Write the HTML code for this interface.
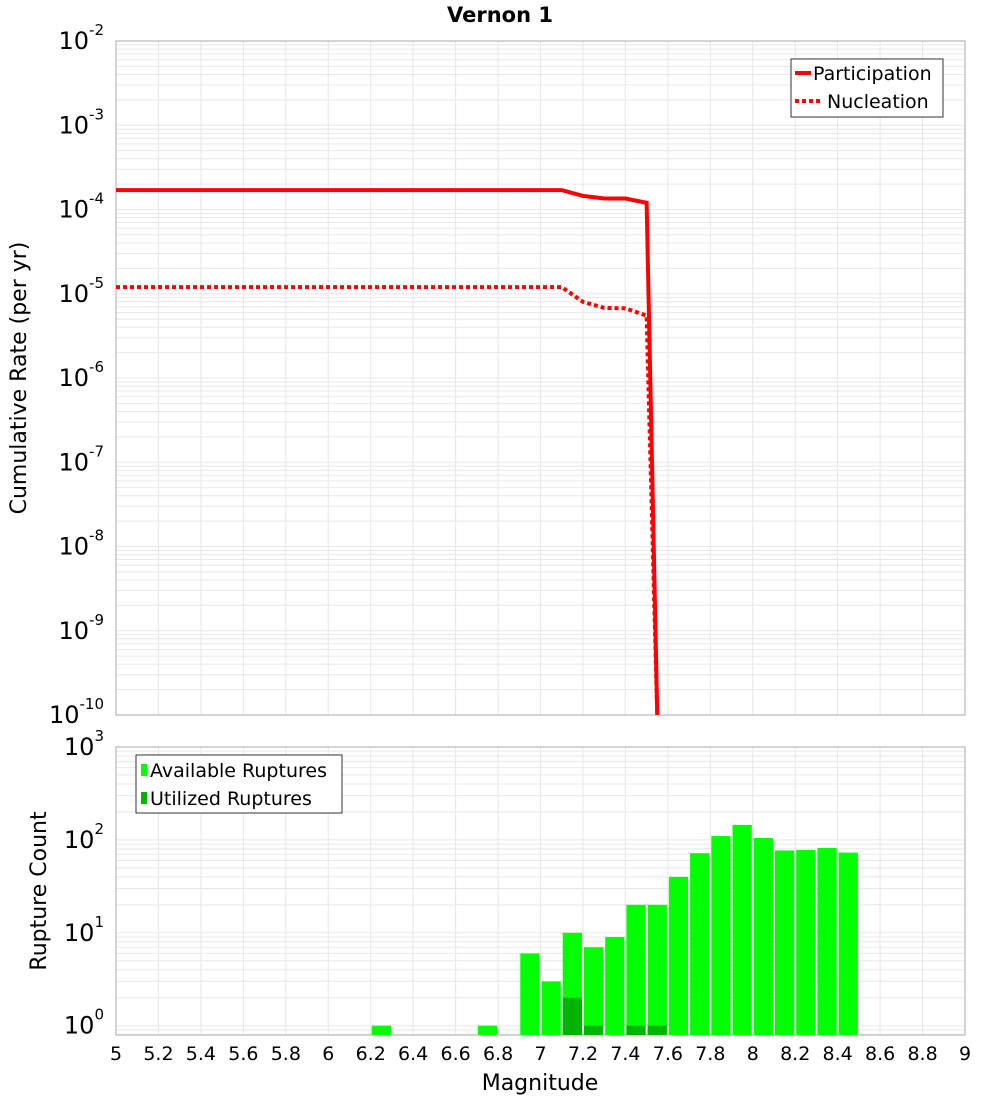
<!DOCTYPE html>
<html><head><meta charset="utf-8"><style>
body{margin:0;background:#fff;font-family:"DejaVu Sans","Liberation Sans",sans-serif}
svg text{font-family:"DejaVu Sans","Liberation Sans",sans-serif}
</style></head><body>
<svg id="c" width="1000" height="1100" xmlns="http://www.w3.org/2000/svg"></svg>
<script>
const partX=[5,7.1,7.2,7.3,7.4,7.5,7.55];
const partY=[1.7e-4,1.7e-4,1.45e-4,1.35e-4,1.35e-4,1.2e-4,1e-10];
const nuclX=[5,7.1,7.2,7.3,7.4,7.5,7.55];
const nuclY=[1.2e-5,1.2e-5,8e-6,6.8e-6,6.7e-6,5.5e-6,1e-10];
const binCenters=[6.25,6.75,6.95,7.05,7.15,7.25,7.35,7.45,7.55,7.65,7.75,7.85,7.95,8.05,8.15,8.25,8.35,8.45];
const availCounts=[1,1,6,3,10,7,9,20,20,40,72,110,145,105,77,78,82,73];
const utilCenters=[7.15,7.25,7.45,7.55];
const utilCounts=[2,1,1,1];
const xTicks=[5,5.2,5.4,5.6,5.8,6,6.2,6.4,6.6,6.8,7,7.2,7.4,7.6,7.8,8,8.2,8.4,8.6,8.8,9];

const NS="http://www.w3.org/2000/svg";
const svg=document.getElementById('c');
function el(t,a,p){const e=document.createElementNS(NS,t);for(const k in a)e.setAttribute(k,a[k]);(p||svg).appendChild(e);return e;}
const X0=116,X1=965;
const x=v=>X0+(v-5)/4*(X1-X0);
const T0=41,T1=715;
const yT=v=>T0+(-2-Math.log10(v))/8*(T1-T0);
const B0=747,B1=1035;
const yB=v=>B0+(3-Math.log10(v))/3.1*(B1-B0);

// title
const ti=el('text',{x:500,y:22,'text-anchor':'middle','font-size':21,'font-weight':'bold'});ti.textContent='Vernon 1';



function grid(top,bot,decFrom,decTo,yf){
  const g=el('g',{});
  
  
  for(const t of xTicks){el('line',{x1:x(t),x2:x(t),y1:top,y2:bot,stroke:'#e6e6e6'},g);}
  for(let d=decFrom;d<decTo;d++){for(let m=1;m<10;m++){const yy=yf(m*Math.pow(10,d));if(yy>=top&&yy<=bot)el('line',{x1:X0,x2:X1,y1:yy,y2:yy,stroke:'#e8e8e8'},g);}}
}
// top plot
el('rect',{x:X0,y:T0,width:X1-X0,height:T1-T0,fill:'#fff'});
grid(T0,T1,-10,-2,yT);
const tf=el('rect',{x:X0,y:T0,width:X1-X0,height:T1-T0,fill:'none',stroke:'#aaa'});


for(let d=-2;d>=-10;d--){
  const t=el('text',{x:104,y:yT(Math.pow(10,d))+8,'text-anchor':'end','font-size':24});
  t.innerHTML='10<tspan font-size="15" dy="-14">'+d+'</tspan>';
  
  
}
const yt=el('text',{transform:'translate(26,378) rotate(-90)','text-anchor':'middle','font-size':22});yt.textContent='Cumulative Rate (per yr)';


const clipD=el('clipPath',{id:'ct'});el('rect',{x:X0,y:T0,width:X1-X0,height:T1-T0},clipD);
function pts(xs,ys){return xs.map((v,i)=>x(v)+','+yT(ys[i])).join(' ');}
const pl=el('polyline',{points:pts(partX,partY),fill:'none',stroke:'#f00','stroke-width':4,'clip-path':'url(#ct)'});


const nl=el('polyline',{points:pts(nuclX,nuclY),fill:'none',stroke:'#f00','stroke-width':4,'stroke-dasharray':'4,3','clip-path':'url(#ct)'});


// top legend
const lg=el('g',{});


el('rect',{x:791,y:59,width:152,height:58,fill:'#fff',stroke:'#333'},lg);
el('line',{x1:795,x2:811,y1:73,y2:73,stroke:'#f00','stroke-width':4},lg);
el('line',{x1:795,x2:823,y1:101,y2:101,stroke:'#f00','stroke-width':4,'stroke-dasharray':'4,3'},lg);
let t1=el('text',{x:813,y:80,'font-size':19},lg);t1.textContent='Participation';
let t2=el('text',{x:827,y:108,'font-size':19},lg);t2.textContent='Nucleation';

// bottom plot
grid(B0,B1,-1,3,yB);
const bf=el('rect',{x:X0,y:B0,width:X1-X0,height:B1-B0,fill:'none',stroke:'#aaa'});


const bw=x(5.1)-x(5)-2;
binCenters.forEach((c,i)=>{
  const r=el('rect',{x:x(c)-bw/2,y:yB(availCounts[i]),width:bw,height:B1-yB(availCounts[i]),fill:'#00ff00'});
  
  
});
utilCenters.forEach((c,i)=>{
  const r=el('rect',{x:x(c)-bw/2,y:yB(utilCounts[i]),width:bw,height:B1-yB(utilCounts[i]),fill:'#00b400'});
  
  
});
for(let d=0;d<=3;d++){
  const t=el('text',{x:104,y:yB(Math.pow(10,d))+8,'text-anchor':'end','font-size':24});
  t.innerHTML='10<tspan font-size="15" dy="-14">'+d+'</tspan>';
  
  
}
const yt2=el('text',{transform:'translate(46,891) rotate(-90)','text-anchor':'middle','font-size':22});yt2.textContent='Rupture Count';


xTicks.forEach(t=>{
  const tx=el('text',{x:x(t),y:1060,'text-anchor':'middle','font-size':19});tx.textContent=String(t);
  
  
});
const xt=el('text',{x:540,y:1090,'text-anchor':'middle','font-size':22});xt.textContent='Magnitude';


const lg2=el('g',{});


el('rect',{x:136,y:755,width:206,height:58,fill:'#fff',stroke:'#333'},lg2);
el('rect',{x:141,y:764,width:6,height:12,fill:'#00ff00'},lg2);
el('rect',{x:141,y:792,width:6,height:12,fill:'#00b400'},lg2);
let t3=el('text',{x:150,y:777,'font-size':19},lg2);t3.textContent='Available Ruptures';
let t4=el('text',{x:150,y:805,'font-size':19},lg2);t4.textContent='Utilized Ruptures';
</script>
</body></html>
